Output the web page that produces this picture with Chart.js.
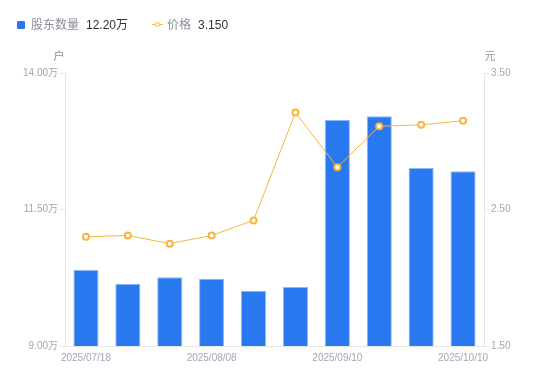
<!DOCTYPE html>
<html>
<head>
<meta charset="utf-8">
<script src="https://cdn.jsdelivr.net/npm/chart.js@4"></script>
<style>
html,body{margin:0;padding:0;background:#fff;width:550px;height:381px;overflow:hidden;font-family:"Liberation Sans","Noto Sans CJK SC",sans-serif;}
#wrap{position:absolute;left:0;top:0;width:550px;height:381px;}
#legend{position:absolute;left:17px;top:16px;font-size:12px;line-height:16px;white-space:nowrap;}
#legend span{display:inline-block;vertical-align:middle;}
.sq{width:8px;height:8px;background:#2878f0;border-radius:1px;margin-right:6px;}
.lab{color:#8a8f99;margin-right:7px;}
.val{color:#333;}
.ln{position:relative;width:11px;height:8px;margin-right:4px;margin-left:24px;}
.ln:before{content:"";position:absolute;left:0;top:3.5px;width:11px;height:1px;background:#f5b53f;}
.ln:after{content:"";position:absolute;left:2.5px;top:1px;width:3px;height:3px;border:1.5px solid #f5b53f;border-radius:50%;background:#fff;}
</style>
</head>
<body>
<div id="wrap"><canvas id="c" width="550" height="381"></canvas></div>
<div id="legend"><span class="sq"></span><span class="lab">股东数量</span><span class="val">12.20万</span><span class="ln"></span><span class="lab">价格</span><span class="val">3.150</span></div>
<script>
const categories = ["2025/07/18","2025/07/25","2025/07/31","2025/08/08","2025/08/15","2025/08/29","2025/09/10","2025/09/19","2025/09/30","2025/10/10"];
const holders = [10.39, 10.14, 10.26, 10.23, 10.01, 10.08, 13.14, 13.21, 12.26, 12.20];
const prices = [2.30, 2.31, 2.25, 2.31, 2.42, 3.21, 2.81, 3.11, 3.12, 3.15];
const leftTicks = [9.00, 11.50, 14.00];
const rightTicks = [1.50, 2.50, 3.50];

const unitPlugin = {
  id: 'units',
  afterDraw(chart) {
    const ctx = chart.ctx;
    ctx.save();
    ctx.font = '11px "Liberation Sans","Noto Sans CJK SC",sans-serif';
    ctx.fillStyle = '#8a8f99';
    ctx.textAlign = 'center';
    ctx.textBaseline = 'middle';
    ctx.fillText('户', chart.chartArea.left - 6, 57);
    ctx.fillText('元', chart.chartArea.right + 6, 57);
    ctx.restore();
  }
};

const tickFont = {size: 10, family: '"Liberation Sans","Noto Sans CJK SC",sans-serif'};
const tickColor = '#a3a6b4';
const lineColor = '#e6e6e6';

new Chart(document.getElementById('c'), {
  type: 'bar',
  data: {
    labels: categories,
    datasets: [
      {
        type: 'line',
        label: '价格',
        data: prices,
        yAxisID: 'y1',
        borderColor: '#f5b53f',
        borderWidth: 1,
        pointRadius: 3,
        pointBorderWidth: 2,
        pointBackgroundColor: '#fff',
        pointBorderColor: '#f5b53f',
        tension: 0,
        order: 0
      },
      {
        type: 'bar',
        label: '股东数量',
        data: holders,
        yAxisID: 'y',
        backgroundColor: '#2878f0',
        borderColor: '#8fb8f7',
        borderWidth: {top: 1, left: 1, right: 1, bottom: 0},
        borderSkipped: 'bottom',
        barPercentage: 0.6,
        categoryPercentage: 1.0,
        order: 1
      }
    ]
  },
  options: {
    responsive: false,
    animation: false,
    devicePixelRatio: 1,
    layout: {padding: {top: 73, left: 0, right: 0, bottom: 0}},
    plugins: {legend: {display: false}, tooltip: {enabled: false}},
    scales: {
      x: {
        grid: {display: false, drawTicks: false},
        border: {display: true, color: lineColor},
        ticks: {
          autoSkip: false, maxRotation: 0, minRotation: 0, padding: 6,
          color: tickColor, font: tickFont,
          callback: function(v, i) { return i % 3 === 0 ? categories[i] : ''; }
        },
        afterFit(s) { s.height = 35; }
      },
      y: {
        position: 'left',
        min: 9, max: 14,
        afterBuildTicks(s) { s.ticks = leftTicks.map(v => ({value: v})); },
        grid: {drawOnChartArea: false, drawTicks: true, tickLength: 5, color: lineColor},
        border: {display: true, color: lineColor},
        ticks: {
          color: tickColor, font: tickFont, padding: 2,
          callback: v => v.toFixed(2) + '万'
        },
        afterFit(s) { s.width = 65; }
      },
      y1: {
        position: 'right',
        min: 1.5, max: 3.5,
        afterBuildTicks(s) { s.ticks = rightTicks.map(v => ({value: v})); },
        grid: {drawOnChartArea: false, drawTicks: true, tickLength: 5, color: lineColor},
        border: {display: true, color: lineColor},
        ticks: {
          color: tickColor, font: tickFont, padding: 2,
          callback: v => v.toFixed(2)
        },
        afterFit(s) { s.width = 66; }
      }
    }
  },
  plugins: [unitPlugin]
});
</script>
</body>
</html>
